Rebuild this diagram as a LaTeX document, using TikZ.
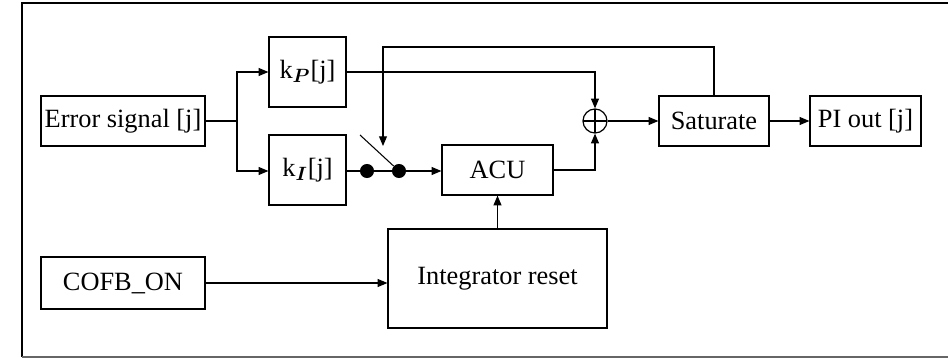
\documentclass[tikz,border=0pt]{standalone}
\usepackage{fontspec}
\setmainfont{Liberation Serif}
\usepackage{amsmath}
\usepackage{bm}
\usetikzlibrary{arrows.meta}

\begin{document}
\begin{tikzpicture}[x=0.02cm, y=-0.02cm,
    font=\fontsize{15}{18}\selectfont,
    block/.style={draw, rectangle, line width=0.7pt, inner sep=0pt},
    sig/.style={line width=0.6pt},
    arr/.style={sig, -{Triangle[length=5.5pt,width=4.5pt]}},
    contact/.style={circle, fill, inner sep=0pt, minimum size=8pt},
    sumnode/.style={draw, circle, line width=0.7pt, inner sep=0pt, minimum size=0.48cm,
        path picture={\draw[line width=0.7pt] (path picture bounding box.north) -- (path picture bounding box.south)
        (path picture bounding box.west) -- (path picture bounding box.east);}}]
            \useasboundingbox (0,0) rectangle (948,358);
            % frame
            \draw[line width=1.2pt] (948,3) -- (22,3) -- (22,357);
            \draw[line width=0.7pt, black!60] (22,357) -- (948,357);
            % PI controller blocks
            \node[block, minimum width=3.28cm, minimum height=1cm] (err) at (123,121) {Error signal [j]};
            \node[block, minimum width=1.54cm, minimum height=1.4cm] (kp) at (307.5,72) {k$_{\bm{P}}$[j]};
            \node[block, minimum width=1.54cm, minimum height=1.4cm] (ki) at (307.5,170) {k$_{\bm{I}}$[j]};
            \node[block, minimum width=2.22cm, minimum height=1cm] (acu) at (497.5,170) {ACU};
            \node[sumnode] (sum) at (595,121) {};
            \node[block, minimum width=2.2cm, minimum height=1cm] (sat) at (714,121) {Saturate};
            \node[block, minimum width=2.22cm, minimum height=1cm] (out) at (865.5,121) {PI out [j]};
            \node[block, minimum width=3.28cm, minimum height=1.04cm] (cofb) at (123,283) {COFB\_ON};
            \node[block, minimum width=4.38cm, minimum height=1.98cm] (ireset) at (497.5,278.5) {Integrator reset};
            % switch
            \node[contact] (sw1) at (367,171) {};
            \node[contact] (sw2) at (399,171) {};
            \coordinate (blade) at (360,135);
            \coordinate (split) at (237,121);
            \coordinate (swtip) at (383,146);
            \coordinate (fbtop) at (383,47);
            
            \draw[sig] (err.east) -- (split);
            \draw[arr] (split) |- (kp.west);
            \draw[arr] (split) |- (ki.west |- sw1);
            \draw[sig] (ki.east |- sw1) -- (sw1) -- (sw2);
            \draw[sig] (blade) -- (sw2);
            \draw[arr] (sw2) -- (acu.west |- sw2);
            \draw[arr] (kp.east) -| (sum.north);
            \draw[arr] (acu.east) -| (sum.south);
            \draw[arr] (sum.east) -- (sat.west);
            \draw[arr] (sat.east) -- (out.west);
            \draw[arr] (sat.north) |- (fbtop) -- (swtip);
            \draw[arr] (cofb.east) -- (cofb.east -| ireset.west);
            \draw[arr] (ireset.north) -- (acu.south);
        \end{tikzpicture}
\end{document}
